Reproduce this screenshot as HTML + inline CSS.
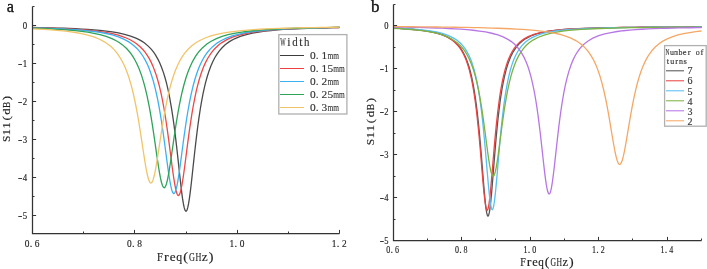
<!DOCTYPE html>
<html><head><meta charset="utf-8"><style>
html,body{margin:0;padding:0;background:#fff;}
body{width:707px;height:269px;overflow:hidden;}
svg{display:block;}
</style></head><body>
<svg style="will-change:transform" width="707" height="269" viewBox="0 0 707 269">
<path d="M32.40 27.49L38.54 27.61L44.69 27.74L50.83 27.88L56.98 28.05L63.12 28.25L69.26 28.47L75.41 28.73L81.55 29.04L87.70 29.41L93.84 29.85L99.98 30.39L106.13 31.05L112.27 31.87L118.42 32.92L124.56 34.27L130.62 36.04L136.58 38.40L140.94 40.67L144.24 42.83L148.50 46.36L151.18 49.17L153.61 52.21L155.31 54.69L157.87 59.09L159.57 62.55L161.42 66.92L163.47 72.62L164.68 76.49L166.38 82.69L168.09 89.91L169.62 97.39L171.49 108.06L172.69 115.78L173.71 123.01L174.74 130.82L175.75 139.10L176.60 146.43L177.45 154.05L178.31 161.87L179.16 169.78L179.86 176.23L180.86 185.21L181.71 192.30L182.56 198.64L183.42 203.94L184.27 207.95L185.12 210.45L186.00 211.30L186.82 210.45L187.02 210.00L187.67 207.95L188.53 203.94L189.38 198.64L190.23 192.30L191.08 185.21L191.93 177.63L192.78 169.78L193.63 161.87L194.49 154.05L195.22 147.51L196.19 139.10L197.04 132.12L197.89 125.51L198.74 119.30L200.34 108.75L201.36 102.66L203.00 93.95L204.43 87.33L205.56 82.69L207.26 76.49L208.96 71.15L210.67 66.54L212.62 62.01L214.92 57.52L216.72 54.55L219.18 51.08L221.84 47.97L225.14 44.83L229.40 41.66L234.51 38.80L240.27 36.41L246.42 34.52L252.39 33.14L258.70 32.02L264.85 31.16L270.99 30.48L277.14 29.93L283.28 29.47L289.42 29.10L295.57 28.78L301.71 28.51L307.86 28.28L314.00 28.08L320.14 27.91L326.29 27.76L332.43 27.63L338.58 27.51L339.60 27.49" fill="none" stroke="#4a4a4a" stroke-width="1.30"/>
<path d="M32.40 27.75L38.54 27.89L44.69 28.06L50.83 28.24L56.98 28.46L63.12 28.71L69.26 29.00L75.41 29.34L81.55 29.75L87.70 30.25L93.84 30.85L99.98 31.59L105.92 32.48L112.26 33.69L118.42 35.23L124.56 37.27L129.68 39.52L134.01 41.98L136.85 43.97L140.35 46.95L143.07 49.78L145.04 52.19L147.60 55.86L149.41 58.91L151.22 62.40L153.23 66.89L155.75 73.66L157.57 79.46L159.38 86.17L161.19 93.98L162.45 100.09L163.91 108.00L165.52 117.74L166.54 124.50L167.53 131.42L168.44 138.06L169.35 144.94L170.25 151.97L171.16 159.04L172.06 166.01L172.97 172.72L173.88 178.96L174.78 184.50L175.76 189.44L176.78 193.17L177.50 194.77L177.81 195.18L178.41 195.51L178.83 195.35L179.31 194.77L179.86 193.64L180.22 192.60L181.13 189.12L182.03 184.50L182.94 178.96L183.84 172.72L184.75 166.01L185.66 159.04L186.56 151.97L187.47 144.94L188.37 138.06L189.28 131.42L190.19 125.07L191.09 119.04L192.14 112.47L193.17 106.51L194.72 98.33L196.24 91.20L197.44 86.18L199.25 79.46L201.06 73.66L203.41 67.32L205.59 62.40L207.50 58.73L210.58 53.82L212.84 50.85L214.67 48.76L219.18 44.58L221.90 42.58L227.34 39.42L233.10 36.95L239.12 35.03L245.39 33.51L251.54 32.37L257.68 31.48L263.82 30.76L269.97 30.17L276.11 29.69L282.26 29.29L288.40 28.96L294.54 28.67L300.69 28.43L306.83 28.22L312.98 28.03L319.12 27.87L325.26 27.73L331.41 27.61L337.55 27.50L339.60 27.46" fill="none" stroke="#ef4646" stroke-width="1.30"/>
<path d="M32.40 27.89L38.54 28.05L44.69 28.24L50.83 28.45L56.98 28.69L63.12 28.98L69.26 29.32L75.41 29.72L81.55 30.19L87.70 30.78L93.84 31.49L99.98 32.38L106.13 33.51L112.27 34.96L118.42 36.89L124.23 39.33L128.83 41.87L132.75 44.65L136.18 47.69L138.02 49.62L139.92 51.88L142.99 56.24L145.37 60.35L147.21 64.06L149.14 68.58L151.18 74.19L153.23 80.80L155.28 88.61L157.32 97.74L159.16 107.32L160.40 114.56L161.42 120.99L162.45 127.82L163.47 135.02L164.50 142.53L165.52 150.24L166.51 157.73L167.43 164.60L168.35 171.21L169.26 177.35L170.64 185.18L171.66 189.58L172.02 190.76L172.69 192.44L172.94 192.89L173.71 193.60L173.86 193.62L174.78 192.89L175.76 190.57L176.78 186.59L177.81 181.27L178.83 174.90L179.86 167.79L180.88 160.23L181.90 152.48L182.93 144.73L183.95 137.16L184.89 130.48L185.81 124.20L186.73 118.24L188.05 110.24L189.48 102.37L191.12 94.35L193.16 85.71L195.00 79.05L196.84 73.31L198.67 68.35L200.51 64.06L202.38 60.28L204.43 56.71L206.94 53.00L209.70 49.62L212.62 46.66L217.05 43.09L220.82 40.73L226.24 38.08L232.08 35.95L238.19 34.27L244.37 32.96L250.51 31.95L256.66 31.15L262.80 30.50L268.94 29.97L275.09 29.53L281.23 29.16L287.38 28.84L293.52 28.58L299.66 28.35L305.81 28.15L311.95 27.98L318.10 27.83L324.24 27.69L330.38 27.57L336.53 27.47L339.60 27.42" fill="none" stroke="#3db0f2" stroke-width="1.30"/>
<path d="M32.40 28.25L38.54 28.45L44.69 28.69L50.83 28.97L56.98 29.30L63.12 29.69L69.26 30.15L75.41 30.71L81.55 31.39L87.70 32.23L93.84 33.29L99.98 34.64L106.13 36.41L111.93 38.62L116.68 40.98L119.52 42.72L122.51 44.89L126.61 48.57L129.02 51.23L130.92 53.65L132.82 56.41L134.80 59.71L136.85 63.66L138.90 68.27L141.37 74.87L143.26 80.88L145.04 87.36L147.06 95.90L148.96 105.16L150.16 111.66L151.18 117.62L152.21 123.94L153.23 130.59L154.26 137.51L155.28 144.63L156.30 151.82L157.33 158.94L158.35 165.77L159.38 172.11L160.40 177.68L161.42 182.23L162.45 185.52L163.21 187.02L163.47 187.35L164.16 187.70L164.50 187.62L165.11 187.02L165.52 186.30L166.06 185.01L166.54 183.48L167.57 179.33L168.90 172.29L170.64 161.27L171.66 154.23L172.69 147.04L173.65 140.30L174.60 133.79L175.55 127.49L176.50 121.45L177.81 113.62L179.35 105.16L180.88 97.60L182.20 91.73L183.95 84.77L186.00 77.76L188.05 71.77L190.10 66.66L192.64 61.31L195.49 56.41L197.39 53.65L199.31 51.20L202.38 47.89L206.89 44.05L210.69 41.53L216.38 38.62L222.08 36.44L227.98 34.73L234.13 33.36L240.12 32.31L246.42 31.43L252.56 30.74L258.70 30.18L264.85 29.71L270.99 29.32L277.14 28.99L283.28 28.71L289.42 28.47L295.57 28.26L301.71 28.07L307.86 27.91L314.00 27.77L320.14 27.65L326.29 27.54L332.43 27.44L338.58 27.35L339.60 27.33" fill="none" stroke="#2ea35a" stroke-width="1.30"/>
<path d="M32.40 28.79L38.54 29.08L44.69 29.42L50.83 29.83L56.98 30.31L63.12 30.90L69.26 31.61L75.41 32.50L81.55 33.61L87.70 35.05L93.80 36.91L99.60 39.25L104.44 41.82L108.31 44.44L111.25 46.85L114.32 49.90L117.39 53.62L119.93 57.32L122.83 62.47L124.76 66.55L126.70 71.26L128.66 76.78L130.57 83.03L132.51 90.34L134.44 98.75L135.82 105.50L137.35 113.65L138.90 122.72L139.92 129.08L140.94 135.68L141.97 142.44L142.99 149.25L144.02 155.95L145.04 162.37L146.06 168.31L147.09 173.52L148.11 177.79L149.14 180.88L149.93 182.36L150.16 182.64L150.90 183.02L151.18 182.96L151.86 182.36L152.21 181.82L152.83 180.44L153.23 179.29L154.26 175.51L155.73 168.27L157.33 158.80L158.35 152.19L159.38 145.41L160.40 138.61L161.42 131.93L162.45 125.46L163.47 119.25L165.41 108.38L167.35 98.75L169.28 90.34L171.22 83.03L173.15 76.72L175.09 71.26L177.03 66.55L178.96 62.47L180.90 58.92L182.93 55.69L184.98 52.86L188.05 49.28L191.54 45.98L195.41 43.06L199.31 40.70L205.09 38.00L210.90 35.96L216.70 34.39L222.86 33.10L229.01 32.09L235.15 31.29L241.30 30.63L247.44 30.09L253.58 29.64L259.73 29.27L265.87 28.95L272.02 28.68L278.16 28.44L284.30 28.24L290.45 28.06L296.59 27.90L302.74 27.76L308.88 27.64L315.02 27.53L321.17 27.43L327.31 27.34L333.46 27.27L339.60 27.19" fill="none" stroke="#f2c46a" stroke-width="1.30"/>
<path d="M32.50 6.50 V233.50 H339.60" fill="none" stroke="#333" stroke-width="1.25"/>
<line x1="32.50" y1="6.50" x2="34.50" y2="6.50" stroke="#333" stroke-width="1.00"/>
<line x1="32.50" y1="25.50" x2="36.10" y2="25.50" stroke="#333" stroke-width="1.00"/>
<line x1="32.50" y1="44.50" x2="34.50" y2="44.50" stroke="#333" stroke-width="1.00"/>
<line x1="32.50" y1="63.50" x2="36.10" y2="63.50" stroke="#333" stroke-width="1.00"/>
<line x1="32.50" y1="82.50" x2="34.50" y2="82.50" stroke="#333" stroke-width="1.00"/>
<line x1="32.50" y1="101.50" x2="36.10" y2="101.50" stroke="#333" stroke-width="1.00"/>
<line x1="32.50" y1="120.50" x2="34.50" y2="120.50" stroke="#333" stroke-width="1.00"/>
<line x1="32.50" y1="139.50" x2="36.10" y2="139.50" stroke="#333" stroke-width="1.00"/>
<line x1="32.50" y1="158.50" x2="34.50" y2="158.50" stroke="#333" stroke-width="1.00"/>
<line x1="32.50" y1="177.50" x2="36.10" y2="177.50" stroke="#333" stroke-width="1.00"/>
<line x1="32.50" y1="196.50" x2="34.50" y2="196.50" stroke="#333" stroke-width="1.00"/>
<line x1="32.50" y1="215.50" x2="36.10" y2="215.50" stroke="#333" stroke-width="1.00"/>
<line x1="32.50" y1="233.50" x2="32.50" y2="229.90" stroke="#333" stroke-width="1.00"/>
<line x1="83.50" y1="233.50" x2="83.50" y2="231.50" stroke="#333" stroke-width="1.00"/>
<line x1="134.50" y1="233.50" x2="134.50" y2="229.90" stroke="#333" stroke-width="1.00"/>
<line x1="186.50" y1="233.50" x2="186.50" y2="231.50" stroke="#333" stroke-width="1.00"/>
<line x1="237.50" y1="233.50" x2="237.50" y2="229.90" stroke="#333" stroke-width="1.00"/>
<line x1="288.50" y1="233.50" x2="288.50" y2="231.50" stroke="#333" stroke-width="1.00"/>
<line x1="339.50" y1="233.50" x2="339.50" y2="229.90" stroke="#333" stroke-width="1.00"/>
<rect x="278.80" y="34.60" width="68.10" height="79.40" fill="#fff" stroke="#b0b0b0" stroke-width="1.30"/>
<line x1="280.00" y1="55.50" x2="304.00" y2="55.50" stroke="#3c3c3c" stroke-width="1.05"/>
<line x1="280.00" y1="68.50" x2="304.00" y2="68.50" stroke="#ee3f3f" stroke-width="1.05"/>
<line x1="280.00" y1="81.50" x2="304.00" y2="81.50" stroke="#3db0f2" stroke-width="1.05"/>
<line x1="280.00" y1="94.50" x2="304.00" y2="94.50" stroke="#2ea35a" stroke-width="1.05"/>
<line x1="280.00" y1="107.50" x2="304.00" y2="107.50" stroke="#f2c46a" stroke-width="1.05"/>
<path d="M393.00 28.09L399.17 28.40L405.34 28.77L411.51 29.23L417.68 29.82L423.85 30.57L430.02 31.55L436.19 32.89L441.94 34.62L447.51 36.98L452.04 39.67L455.19 42.16L457.79 44.74L460.24 47.76L462.13 50.59L464.02 53.98L466.02 58.32L468.44 64.96L470.13 70.77L471.59 76.75L472.85 82.81L474.11 89.83L475.27 97.26L476.30 104.75L477.27 112.64L478.36 122.59L479.16 130.65L479.79 137.41L480.41 144.46L481.05 151.98L481.68 159.67L482.31 167.54L482.94 175.45L483.50 182.33L484.21 190.74L484.84 197.70L485.47 203.89L486.10 209.04L486.73 212.92L487.36 215.34L487.61 215.87L487.99 216.16L488.64 215.29L489.25 212.93L489.88 209.05L490.70 202.18L491.73 191.31L492.41 183.26L493.04 175.47L493.67 167.56L494.30 159.70L494.81 153.41L495.56 144.56L496.19 137.44L496.82 130.68L497.45 124.29L498.08 118.30L498.93 110.87L499.95 102.71L500.98 95.46L502.01 89.02L503.13 82.86L504.39 76.81L506.12 69.82L507.54 65.03L509.44 59.70L511.33 55.34L513.32 51.57L515.74 47.86L518.90 44.10L522.05 41.22L525.84 38.58L530.88 36.01L536.56 33.97L543.15 32.31L549.32 31.20L555.49 30.38L561.66 29.75L567.83 29.26L574.00 28.87L580.17 28.56L586.34 28.31L592.51 28.10L598.68 27.92L604.85 27.78L611.02 27.66L617.19 27.55L623.36 27.46L629.53 27.39L635.70 27.32L641.87 27.26L648.04 27.22L654.21 27.17L660.38 27.14L666.55 27.10L672.72 27.08L678.90 27.05L685.07 27.03L691.24 27.01L697.41 27.00L701.52 26.99" fill="none" stroke="#555555" stroke-width="1.30"/>
<path d="M393.00 28.09L399.17 28.40L405.34 28.78L411.51 29.24L417.68 29.83L423.85 30.60L430.02 31.61L436.19 32.98L442.36 34.91L447.51 37.20L451.84 39.86L454.99 42.43L458.15 45.75L460.04 48.22L461.93 51.16L463.96 54.98L466.35 60.60L468.24 66.18L469.50 70.61L471.16 77.49L472.65 84.93L473.91 92.30L475.18 100.84L476.30 109.56L477.07 116.15L478.33 128.16L478.96 134.72L479.59 141.61L480.22 148.80L480.85 156.23L481.44 163.33L482.11 171.42L482.74 178.90L483.37 186.09L484.00 192.75L484.64 198.67L485.56 205.45L485.90 207.29L486.58 209.72L487.16 210.37L487.61 209.96L487.79 209.59L488.42 207.29L489.05 203.59L489.68 198.67L490.70 188.75L491.57 178.92L492.20 171.43L492.75 164.78L493.46 156.25L494.10 148.83L494.73 141.64L495.36 134.75L495.99 128.20L496.62 122.01L497.88 110.73L498.93 102.46L499.77 96.46L500.98 88.82L502.29 81.68L503.55 75.78L505.10 69.64L507.15 62.94L508.60 59.05L510.49 54.78L512.38 51.26L514.35 48.21L516.80 45.12L519.95 41.98L523.74 39.13L528.15 36.67L533.83 34.42L540.06 32.69L546.23 31.47L552.40 30.57L558.57 29.89L564.74 29.37L570.91 28.95L577.08 28.62L583.25 28.35L589.42 28.13L595.59 27.95L601.77 27.80L607.94 27.67L614.11 27.56L620.28 27.47L626.45 27.39L632.62 27.33L638.79 27.27L644.96 27.22L651.13 27.17L657.30 27.14L663.47 27.10L669.64 27.07L675.81 27.05L681.98 27.03L688.15 27.01L694.32 26.99L700.49 26.98L701.52 26.98" fill="none" stroke="#e84545" stroke-width="1.30"/>
<path d="M393.00 27.94L399.17 28.21L405.34 28.54L411.51 28.94L417.68 29.44L423.85 30.07L430.02 30.89L436.19 31.98L442.31 33.46L448.07 35.40L453.68 38.10L457.04 40.30L460.25 42.99L462.93 45.85L465.37 49.10L467.29 52.22L469.22 55.97L471.16 60.57L472.42 64.11L474.24 70.15L475.62 75.60L476.90 81.50L478.19 88.32L479.39 95.70L480.41 102.87L481.39 110.46L482.47 119.85L483.31 127.87L483.95 134.40L484.53 140.55L485.23 148.42L485.87 155.82L486.51 163.36L487.16 170.94L487.80 178.39L488.44 185.54L489.08 192.17L489.72 198.05L490.36 202.94L491.00 206.62L491.73 209.10L492.28 209.68L492.75 209.26L492.92 208.91L493.56 206.62L494.20 202.94L494.84 198.06L495.84 188.58L496.77 178.41L497.41 170.96L498.05 163.38L498.69 155.84L499.33 148.45L499.95 141.47L500.61 134.43L501.25 127.90L501.89 121.74L503.04 111.61L503.81 105.42L505.10 96.28L506.12 89.84L507.66 81.55L508.94 75.66L510.24 70.51L511.50 66.16L513.42 60.60L515.38 55.98L517.44 52.01L519.83 48.28L521.75 45.81L524.96 42.52L528.16 39.97L532.01 37.62L537.13 35.31L542.90 33.46L549.32 32.00L555.49 30.98L561.66 30.22L567.83 29.63L574.00 29.17L580.17 28.80L586.34 28.51L592.51 28.27L598.68 28.07L604.85 27.90L611.02 27.76L617.19 27.64L623.36 27.54L629.53 27.46L635.70 27.38L641.87 27.32L648.04 27.27L654.21 27.22L660.38 27.18L666.55 27.14L672.72 27.11L678.90 27.08L685.07 27.06L691.24 27.04L697.41 27.02L701.52 27.01" fill="none" stroke="#58bff2" stroke-width="1.30"/>
<path d="M393.00 28.40L399.17 28.72L405.34 29.12L411.51 29.60L417.68 30.20L423.85 30.95L430.02 31.93L436.19 33.21L442.36 34.94L447.87 37.06L451.70 38.99L454.77 40.92L457.84 43.29L460.14 45.44L463.21 48.95L465.51 52.20L467.04 54.74L469.34 59.22L471.64 64.71L473.22 69.17L475.27 76.08L477.01 83.05L478.36 89.24L480.08 98.34L481.44 106.49L482.38 112.62L483.50 120.41L484.53 127.99L485.45 135.02L486.58 143.79L487.61 151.59L488.52 158.08L489.67 165.41L490.82 171.18L491.73 174.31L492.35 175.61L492.75 176.05L493.12 176.19L493.78 175.76L494.65 173.92L495.42 171.19L496.19 167.54L496.95 163.12L497.90 156.87L498.93 149.37L499.95 141.50L500.79 135.05L502.01 125.78L503.04 118.31L504.07 111.25L505.10 104.67L506.12 98.57L507.69 90.23L509.21 83.18L510.76 76.92L512.29 71.54L514.35 65.43L516.41 60.37L518.46 56.15L520.73 52.30L523.03 49.06L526.10 45.56L529.17 42.78L533.00 40.05L538.37 37.22L544.17 35.03L550.35 33.34L556.52 32.10L562.69 31.17L568.86 30.44L575.03 29.87L581.20 29.42L587.37 29.05L593.54 28.75L599.71 28.49L605.88 28.28L612.05 28.11L618.22 27.96L624.39 27.83L630.56 27.72L636.73 27.62L642.90 27.54L649.07 27.47L655.24 27.41L661.41 27.35L667.58 27.31L673.75 27.26L679.92 27.23L686.09 27.20L692.26 27.17L698.43 27.14L701.52 27.13" fill="none" stroke="#7cb342" stroke-width="1.30"/>
<path d="M393.00 27.01L399.17 27.10L405.34 27.21L411.51 27.32L417.68 27.46L423.85 27.61L430.02 27.78L436.19 27.98L442.36 28.21L448.53 28.49L454.70 28.81L460.87 29.20L467.04 29.68L473.22 30.27L479.39 31.02L485.56 31.98L491.73 33.25L497.90 34.96L503.17 36.95L508.36 39.62L511.33 41.60L514.35 44.08L516.52 46.22L518.74 48.83L520.97 51.94L523.93 57.12L526.16 61.99L527.72 66.06L529.13 70.27L530.81 76.12L532.09 81.28L533.57 88.10L534.92 95.19L535.95 101.25L536.98 107.91L538.00 115.18L539.03 123.07L540.06 131.54L540.99 139.62L541.73 146.29L542.47 153.06L543.15 159.21L543.96 166.47L544.70 172.80L545.44 178.65L546.23 184.14L546.92 188.10L547.66 191.32L548.41 193.31L549.15 193.99L549.32 193.95L549.89 193.31L550.35 192.24L550.63 191.32L551.37 188.10L552.40 181.92L553.43 174.18L554.34 166.48L555.08 159.85L555.82 153.09L556.52 146.75L557.31 139.65L558.05 133.18L558.79 126.95L559.60 120.45L560.63 112.76L561.66 105.70L562.69 99.24L563.98 91.95L565.46 84.63L566.95 78.29L568.86 71.36L570.91 65.21L572.97 60.14L575.10 55.79L577.33 52.04L579.55 48.94L582.52 45.57L585.48 42.88L588.45 40.70L592.90 38.15L598.68 35.72L604.77 33.90L611.02 32.52L617.19 31.51L623.36 30.73L629.53 30.12L635.70 29.64L641.87 29.25L648.04 28.93L654.21 28.66L660.38 28.44L666.55 28.26L672.72 28.10L678.90 27.97L685.07 27.85L691.24 27.75L697.41 27.67L701.52 27.62" fill="none" stroke="#b776e6" stroke-width="1.30"/>
<path d="M393.00 26.61L399.17 26.66L405.34 26.70L411.51 26.75L417.68 26.81L423.85 26.87L430.02 26.93L436.19 27.00L442.36 27.07L448.53 27.16L454.70 27.25L460.87 27.35L467.04 27.46L473.22 27.58L479.39 27.71L485.56 27.87L491.73 28.04L497.90 28.24L504.07 28.48L510.24 28.74L516.41 29.06L522.58 29.43L528.75 29.87L534.92 30.41L541.09 31.08L547.26 31.90L553.43 32.95L559.36 34.25L565.56 36.05L570.91 38.10L575.32 40.31L579.14 42.73L582.42 45.32L585.31 48.11L587.74 50.92L589.51 53.30L591.48 56.32L593.95 60.81L595.72 64.60L597.65 69.36L599.71 75.31L601.77 82.30L603.71 89.99L605.48 98.01L606.91 105.18L608.14 111.86L609.92 122.13L611.02 128.77L612.05 135.00L613.08 141.11L614.35 148.26L615.24 152.76L616.16 156.86L617.19 160.53L617.90 162.40L618.22 163.05L618.79 163.90L619.25 164.29L619.67 164.41L620.28 164.18L620.56 163.90L621.45 162.40L622.33 159.97L623.36 156.14L624.39 151.40L625.88 143.37L627.48 133.95L628.50 127.73L629.53 121.56L630.56 115.55L632.09 107.06L633.65 99.13L635.64 90.04L637.41 82.99L639.19 76.82L640.96 71.45L642.90 66.38L645.40 60.90L647.17 57.60L649.07 54.52L652.49 49.96L655.24 47.01L658.70 44.00L662.44 41.40L666.69 39.09L672.72 36.60L678.90 34.74L685.07 33.36L691.24 32.29L697.41 31.46L701.52 31.00" fill="none" stroke="#f5a766" stroke-width="1.30"/>
<path d="M393.50 4.50 V240.50 H701.52" fill="none" stroke="#333" stroke-width="1.25"/>
<line x1="393.50" y1="4.50" x2="395.50" y2="4.50" stroke="#333" stroke-width="1.00"/>
<line x1="393.50" y1="25.50" x2="397.10" y2="25.50" stroke="#333" stroke-width="1.00"/>
<line x1="393.50" y1="47.50" x2="395.50" y2="47.50" stroke="#333" stroke-width="1.00"/>
<line x1="393.50" y1="68.50" x2="397.10" y2="68.50" stroke="#333" stroke-width="1.00"/>
<line x1="393.50" y1="90.50" x2="395.50" y2="90.50" stroke="#333" stroke-width="1.00"/>
<line x1="393.50" y1="111.50" x2="397.10" y2="111.50" stroke="#333" stroke-width="1.00"/>
<line x1="393.50" y1="133.50" x2="395.50" y2="133.50" stroke="#333" stroke-width="1.00"/>
<line x1="393.50" y1="154.50" x2="397.10" y2="154.50" stroke="#333" stroke-width="1.00"/>
<line x1="393.50" y1="176.50" x2="395.50" y2="176.50" stroke="#333" stroke-width="1.00"/>
<line x1="393.50" y1="197.50" x2="397.10" y2="197.50" stroke="#333" stroke-width="1.00"/>
<line x1="393.50" y1="219.50" x2="395.50" y2="219.50" stroke="#333" stroke-width="1.00"/>
<line x1="393.50" y1="240.50" x2="393.50" y2="236.90" stroke="#333" stroke-width="1.00"/>
<line x1="427.50" y1="240.50" x2="427.50" y2="238.50" stroke="#333" stroke-width="1.00"/>
<line x1="461.50" y1="240.50" x2="461.50" y2="236.90" stroke="#333" stroke-width="1.00"/>
<line x1="495.50" y1="240.50" x2="495.50" y2="238.50" stroke="#333" stroke-width="1.00"/>
<line x1="530.50" y1="240.50" x2="530.50" y2="236.90" stroke="#333" stroke-width="1.00"/>
<line x1="564.50" y1="240.50" x2="564.50" y2="238.50" stroke="#333" stroke-width="1.00"/>
<line x1="598.50" y1="240.50" x2="598.50" y2="236.90" stroke="#333" stroke-width="1.00"/>
<line x1="632.50" y1="240.50" x2="632.50" y2="238.50" stroke="#333" stroke-width="1.00"/>
<line x1="667.50" y1="240.50" x2="667.50" y2="236.90" stroke="#333" stroke-width="1.00"/>
<line x1="701.50" y1="240.50" x2="701.50" y2="238.50" stroke="#333" stroke-width="1.00"/>
<rect x="664.60" y="45.60" width="41.60" height="80.60" fill="#fff" stroke="#b0b0b0" stroke-width="1.30"/>
<line x1="666.00" y1="70.80" x2="684.00" y2="70.80" stroke="#555555" stroke-width="1.05"/>
<line x1="666.00" y1="80.80" x2="684.00" y2="80.80" stroke="#e84545" stroke-width="1.05"/>
<line x1="666.00" y1="90.80" x2="684.00" y2="90.80" stroke="#58bff2" stroke-width="1.05"/>
<line x1="666.00" y1="100.80" x2="684.00" y2="100.80" stroke="#7cb342" stroke-width="1.05"/>
<line x1="666.00" y1="110.80" x2="684.00" y2="110.80" stroke="#b776e6" stroke-width="1.05"/>
<line x1="666.00" y1="120.80" x2="684.00" y2="120.80" stroke="#f5a766" stroke-width="1.05"/>
<text x="6.80" y="11.60" style="font-family:'Liberation Serif',serif;font-size:16.30px" fill="#111" stroke="#111" stroke-width="0.35">a</text>
<text x="371.00" y="11.60" style="font-family:'Liberation Serif',serif;font-size:17.00px" fill="#111" stroke="#111" stroke-width="0.35">b</text>
<g style="font-family:'Liberation Serif',serif;font-size:9.70px" fill="#222" stroke="#222" stroke-width="0.15"><text transform="translate(24.90,29.10) scale(0.911,1)" text-anchor="middle">0</text></g>
<g style="font-family:'Liberation Serif',serif;font-size:9.70px" fill="#222" stroke="#222" stroke-width="0.15"><text transform="translate(20.10,67.00) scale(1.350,1)" text-anchor="middle">-</text><text transform="translate(24.90,67.00) scale(0.911,1)" text-anchor="middle">1</text></g>
<g style="font-family:'Liberation Serif',serif;font-size:9.70px" fill="#222" stroke="#222" stroke-width="0.15"><text transform="translate(20.10,104.90) scale(1.350,1)" text-anchor="middle">-</text><text transform="translate(24.90,104.90) scale(0.911,1)" text-anchor="middle">2</text></g>
<g style="font-family:'Liberation Serif',serif;font-size:9.70px" fill="#222" stroke="#222" stroke-width="0.15"><text transform="translate(20.10,142.80) scale(1.350,1)" text-anchor="middle">-</text><text transform="translate(24.90,142.80) scale(0.911,1)" text-anchor="middle">3</text></g>
<g style="font-family:'Liberation Serif',serif;font-size:9.70px" fill="#222" stroke="#222" stroke-width="0.15"><text transform="translate(20.10,180.70) scale(1.350,1)" text-anchor="middle">-</text><text transform="translate(24.90,180.70) scale(0.911,1)" text-anchor="middle">4</text></g>
<g style="font-family:'Liberation Serif',serif;font-size:9.70px" fill="#222" stroke="#222" stroke-width="0.15"><text transform="translate(20.10,218.60) scale(1.350,1)" text-anchor="middle">-</text><text transform="translate(24.90,218.60) scale(0.911,1)" text-anchor="middle">5</text></g>
<g style="font-family:'Liberation Serif',serif;font-size:9.60px" fill="#222" stroke="#222" stroke-width="0.15"><text transform="translate(386.40,29.40) scale(0.882,1)" text-anchor="middle">0</text></g>
<g style="font-family:'Liberation Serif',serif;font-size:9.60px" fill="#222" stroke="#222" stroke-width="0.15"><text transform="translate(381.80,72.40) scale(1.350,1)" text-anchor="middle">-</text><text transform="translate(386.40,72.40) scale(0.882,1)" text-anchor="middle">1</text></g>
<g style="font-family:'Liberation Serif',serif;font-size:9.60px" fill="#222" stroke="#222" stroke-width="0.15"><text transform="translate(381.80,115.40) scale(1.350,1)" text-anchor="middle">-</text><text transform="translate(386.40,115.40) scale(0.882,1)" text-anchor="middle">2</text></g>
<g style="font-family:'Liberation Serif',serif;font-size:9.60px" fill="#222" stroke="#222" stroke-width="0.15"><text transform="translate(381.80,158.40) scale(1.350,1)" text-anchor="middle">-</text><text transform="translate(386.40,158.40) scale(0.882,1)" text-anchor="middle">3</text></g>
<g style="font-family:'Liberation Serif',serif;font-size:9.60px" fill="#222" stroke="#222" stroke-width="0.15"><text transform="translate(381.80,201.40) scale(1.350,1)" text-anchor="middle">-</text><text transform="translate(386.40,201.40) scale(0.882,1)" text-anchor="middle">4</text></g>
<g style="font-family:'Liberation Serif',serif;font-size:9.60px" fill="#222" stroke="#222" stroke-width="0.15"><text transform="translate(381.80,244.40) scale(1.350,1)" text-anchor="middle">-</text><text transform="translate(386.40,244.40) scale(0.882,1)" text-anchor="middle">5</text></g>
<g style="font-family:'Liberation Serif',serif;font-size:10.50px" fill="#222" stroke="#222" stroke-width="0.15"><text transform="translate(27.00,247.30) scale(0.894,1)" text-anchor="middle">0</text><text x="30.96" y="247.30" text-anchor="middle">.</text><text transform="translate(37.20,247.30) scale(0.894,1)" text-anchor="middle">6</text></g>
<g style="font-family:'Liberation Serif',serif;font-size:10.50px" fill="#222" stroke="#222" stroke-width="0.15"><text transform="translate(129.40,247.30) scale(0.894,1)" text-anchor="middle">0</text><text x="133.36" y="247.30" text-anchor="middle">.</text><text transform="translate(139.60,247.30) scale(0.894,1)" text-anchor="middle">8</text></g>
<g style="font-family:'Liberation Serif',serif;font-size:10.50px" fill="#222" stroke="#222" stroke-width="0.15"><text transform="translate(231.80,247.30) scale(0.894,1)" text-anchor="middle">1</text><text x="235.76" y="247.30" text-anchor="middle">.</text><text transform="translate(242.00,247.30) scale(0.894,1)" text-anchor="middle">0</text></g>
<g style="font-family:'Liberation Serif',serif;font-size:10.50px" fill="#222" stroke="#222" stroke-width="0.15"><text transform="translate(334.20,247.30) scale(0.894,1)" text-anchor="middle">1</text><text x="338.16" y="247.30" text-anchor="middle">.</text><text transform="translate(344.40,247.30) scale(0.894,1)" text-anchor="middle">2</text></g>
<g style="font-family:'Liberation Serif',serif;font-size:10.10px" fill="#222" stroke="#222" stroke-width="0.15"><text transform="translate(388.35,252.90) scale(0.792,1)" text-anchor="middle">0</text><text x="391.87" y="252.90" text-anchor="middle">.</text><text transform="translate(397.05,252.90) scale(0.792,1)" text-anchor="middle">6</text></g>
<g style="font-family:'Liberation Serif',serif;font-size:10.10px" fill="#222" stroke="#222" stroke-width="0.15"><text transform="translate(456.91,252.90) scale(0.792,1)" text-anchor="middle">0</text><text x="460.43" y="252.90" text-anchor="middle">.</text><text transform="translate(465.61,252.90) scale(0.792,1)" text-anchor="middle">8</text></g>
<g style="font-family:'Liberation Serif',serif;font-size:10.10px" fill="#222" stroke="#222" stroke-width="0.15"><text transform="translate(525.47,252.90) scale(0.792,1)" text-anchor="middle">1</text><text x="528.99" y="252.90" text-anchor="middle">.</text><text transform="translate(534.17,252.90) scale(0.792,1)" text-anchor="middle">0</text></g>
<g style="font-family:'Liberation Serif',serif;font-size:10.10px" fill="#222" stroke="#222" stroke-width="0.15"><text transform="translate(594.03,252.90) scale(0.792,1)" text-anchor="middle">1</text><text x="597.55" y="252.90" text-anchor="middle">.</text><text transform="translate(602.73,252.90) scale(0.792,1)" text-anchor="middle">2</text></g>
<g style="font-family:'Liberation Serif',serif;font-size:10.10px" fill="#222" stroke="#222" stroke-width="0.15"><text transform="translate(662.59,252.90) scale(0.792,1)" text-anchor="middle">1</text><text x="666.11" y="252.90" text-anchor="middle">.</text><text transform="translate(671.29,252.90) scale(0.792,1)" text-anchor="middle">4</text></g>
<g style="font-family:'Liberation Serif',serif;font-size:12.80px" fill="#222" stroke="#222" stroke-width="0.15"><text transform="translate(159.91,261.40) scale(0.828,1)" text-anchor="middle">F</text><text transform="translate(166.31,261.40) scale(1.100,1)" text-anchor="middle">r</text><text transform="translate(172.72,261.40) scale(1.038,1)" text-anchor="middle">e</text><text transform="translate(179.13,261.40) scale(0.921,1)" text-anchor="middle">q</text><text transform="translate(185.54,261.40) scale(1.100,1)" text-anchor="middle">(</text><text transform="translate(191.96,261.40) scale(0.638,1)" text-anchor="middle">G</text><text transform="translate(198.37,261.40) scale(0.638,1)" text-anchor="middle">H</text><text transform="translate(204.78,261.40) scale(1.038,1)" text-anchor="middle">z</text><text transform="translate(211.19,261.40) scale(1.100,1)" text-anchor="middle">)</text></g>
<g style="font-family:'Liberation Serif',serif;font-size:12.70px" fill="#222" stroke="#222" stroke-width="0.15"><text transform="translate(522.92,266.30) scale(0.788,1)" text-anchor="middle">F</text><text transform="translate(528.97,266.30) scale(1.100,1)" text-anchor="middle">r</text><text transform="translate(535.02,266.30) scale(0.987,1)" text-anchor="middle">e</text><text transform="translate(541.07,266.30) scale(0.877,1)" text-anchor="middle">q</text><text transform="translate(547.12,266.30) scale(1.100,1)" text-anchor="middle">(</text><text transform="translate(553.17,266.30) scale(0.607,1)" text-anchor="middle">G</text><text transform="translate(559.22,266.30) scale(0.607,1)" text-anchor="middle">H</text><text transform="translate(565.27,266.30) scale(0.987,1)" text-anchor="middle">z</text><text transform="translate(571.32,266.30) scale(1.100,1)" text-anchor="middle">)</text></g>
<g style="font-family:'Liberation Serif',serif;font-size:11.30px" fill="#222" stroke="#222" stroke-width="0.15" transform="translate(9.60,142.30) rotate(-90)"><text transform="translate(3.41,0.00) scale(0.998,1)" text-anchor="middle">S</text><text transform="translate(10.23,0.00) scale(1.111,1)" text-anchor="middle">1</text><text transform="translate(17.05,0.00) scale(1.111,1)" text-anchor="middle">1</text><text transform="translate(23.87,0.00) scale(1.150,1)" text-anchor="middle">(</text><text transform="translate(30.69,0.00) scale(1.111,1)" text-anchor="middle">d</text><text transform="translate(37.51,0.00) scale(0.832,1)" text-anchor="middle">B</text><text transform="translate(44.33,0.00) scale(1.150,1)" text-anchor="middle">)</text></g>
<g style="font-family:'Liberation Serif',serif;font-size:11.00px" fill="#222" stroke="#222" stroke-width="0.15" transform="translate(374.40,145.60) rotate(-90)"><text transform="translate(3.50,0.00) scale(1.053,1)" text-anchor="middle">S</text><text transform="translate(10.50,0.00) scale(1.150,1)" text-anchor="middle">1</text><text transform="translate(17.50,0.00) scale(1.150,1)" text-anchor="middle">1</text><text transform="translate(24.50,0.00) scale(1.150,1)" text-anchor="middle">(</text><text transform="translate(31.50,0.00) scale(1.150,1)" text-anchor="middle">d</text><text transform="translate(38.50,0.00) scale(0.878,1)" text-anchor="middle">B</text><text transform="translate(45.50,0.00) scale(1.150,1)" text-anchor="middle">)</text></g>
<g style="font-family:'Liberation Serif',serif;font-size:11.70px" fill="#333" stroke="#333" stroke-width="0.15"><text transform="translate(283.05,46.10) scale(0.492,1)" text-anchor="middle">W</text><text x="288.95" y="46.10" text-anchor="middle">i</text><text transform="translate(294.85,46.10) scale(0.928,1)" text-anchor="middle">d</text><text x="300.75" y="46.10" text-anchor="middle">t</text><text transform="translate(306.65,46.10) scale(0.928,1)" text-anchor="middle">h</text></g>
<g style="font-family:'Liberation Serif',serif;font-size:11.40px" fill="#333" stroke="#333" stroke-width="0.15"><text x="312.73" y="59.20" text-anchor="middle">0</text><text x="317.19" y="59.20" text-anchor="middle">.</text><text x="324.43" y="59.20" text-anchor="middle">1</text><text transform="translate(330.28,59.20) scale(0.647,1)" text-anchor="middle">m</text><text transform="translate(336.12,59.20) scale(0.647,1)" text-anchor="middle">m</text></g>
<g style="font-family:'Liberation Serif',serif;font-size:11.40px" fill="#333" stroke="#333" stroke-width="0.15"><text x="312.73" y="72.20" text-anchor="middle">0</text><text x="317.19" y="72.20" text-anchor="middle">.</text><text x="324.43" y="72.20" text-anchor="middle">1</text><text x="330.28" y="72.20" text-anchor="middle">5</text><text transform="translate(336.12,72.20) scale(0.647,1)" text-anchor="middle">m</text><text transform="translate(341.98,72.20) scale(0.647,1)" text-anchor="middle">m</text></g>
<g style="font-family:'Liberation Serif',serif;font-size:11.40px" fill="#333" stroke="#333" stroke-width="0.15"><text x="312.73" y="85.20" text-anchor="middle">0</text><text x="317.19" y="85.20" text-anchor="middle">.</text><text x="324.43" y="85.20" text-anchor="middle">2</text><text transform="translate(330.28,85.20) scale(0.647,1)" text-anchor="middle">m</text><text transform="translate(336.12,85.20) scale(0.647,1)" text-anchor="middle">m</text></g>
<g style="font-family:'Liberation Serif',serif;font-size:11.40px" fill="#333" stroke="#333" stroke-width="0.15"><text x="312.73" y="98.20" text-anchor="middle">0</text><text x="317.19" y="98.20" text-anchor="middle">.</text><text x="324.43" y="98.20" text-anchor="middle">2</text><text x="330.28" y="98.20" text-anchor="middle">5</text><text transform="translate(336.12,98.20) scale(0.647,1)" text-anchor="middle">m</text><text transform="translate(341.98,98.20) scale(0.647,1)" text-anchor="middle">m</text></g>
<g style="font-family:'Liberation Serif',serif;font-size:11.40px" fill="#333" stroke="#333" stroke-width="0.15"><text x="312.73" y="111.20" text-anchor="middle">0</text><text x="317.19" y="111.20" text-anchor="middle">.</text><text x="324.43" y="111.20" text-anchor="middle">3</text><text transform="translate(330.28,111.20) scale(0.647,1)" text-anchor="middle">m</text><text transform="translate(336.12,111.20) scale(0.647,1)" text-anchor="middle">m</text></g>
<g style="font-family:'Liberation Serif',serif;font-size:8.50px" fill="#333" stroke="#333" stroke-width="0.15"><text transform="translate(667.55,54.50) scale(0.644,1)" text-anchor="middle">N</text><text transform="translate(671.85,54.50) scale(0.931,1)" text-anchor="middle">u</text><text transform="translate(676.15,54.50) scale(0.598,1)" text-anchor="middle">m</text><text transform="translate(680.45,54.50) scale(0.931,1)" text-anchor="middle">b</text><text x="684.75" y="54.50" text-anchor="middle">e</text><text x="689.05" y="54.50" text-anchor="middle">r</text><text transform="translate(697.65,54.50) scale(0.931,1)" text-anchor="middle">o</text><text x="701.95" y="54.50" text-anchor="middle">f</text></g>
<g style="font-family:'Liberation Serif',serif;font-size:8.50px" fill="#333" stroke="#333" stroke-width="0.15"><text x="667.95" y="63.60" text-anchor="middle">t</text><text transform="translate(672.25,63.60) scale(0.931,1)" text-anchor="middle">u</text><text x="676.55" y="63.60" text-anchor="middle">r</text><text transform="translate(680.85,63.60) scale(0.931,1)" text-anchor="middle">n</text><text x="685.15" y="63.60" text-anchor="middle">s</text></g>
<text x="690.00" y="74.30" text-anchor="middle" style="font-family:'Liberation Serif',serif;font-size:10.00px" fill="#333" stroke="#333" stroke-width="0.15">7</text>
<text x="690.00" y="84.45" text-anchor="middle" style="font-family:'Liberation Serif',serif;font-size:10.00px" fill="#333" stroke="#333" stroke-width="0.15">6</text>
<text x="690.00" y="94.60" text-anchor="middle" style="font-family:'Liberation Serif',serif;font-size:10.00px" fill="#333" stroke="#333" stroke-width="0.15">5</text>
<text x="690.00" y="104.75" text-anchor="middle" style="font-family:'Liberation Serif',serif;font-size:10.00px" fill="#333" stroke="#333" stroke-width="0.15">4</text>
<text x="690.00" y="114.90" text-anchor="middle" style="font-family:'Liberation Serif',serif;font-size:10.00px" fill="#333" stroke="#333" stroke-width="0.15">3</text>
<text x="690.00" y="125.05" text-anchor="middle" style="font-family:'Liberation Serif',serif;font-size:10.00px" fill="#333" stroke="#333" stroke-width="0.15">2</text>
</svg>
</body></html>
